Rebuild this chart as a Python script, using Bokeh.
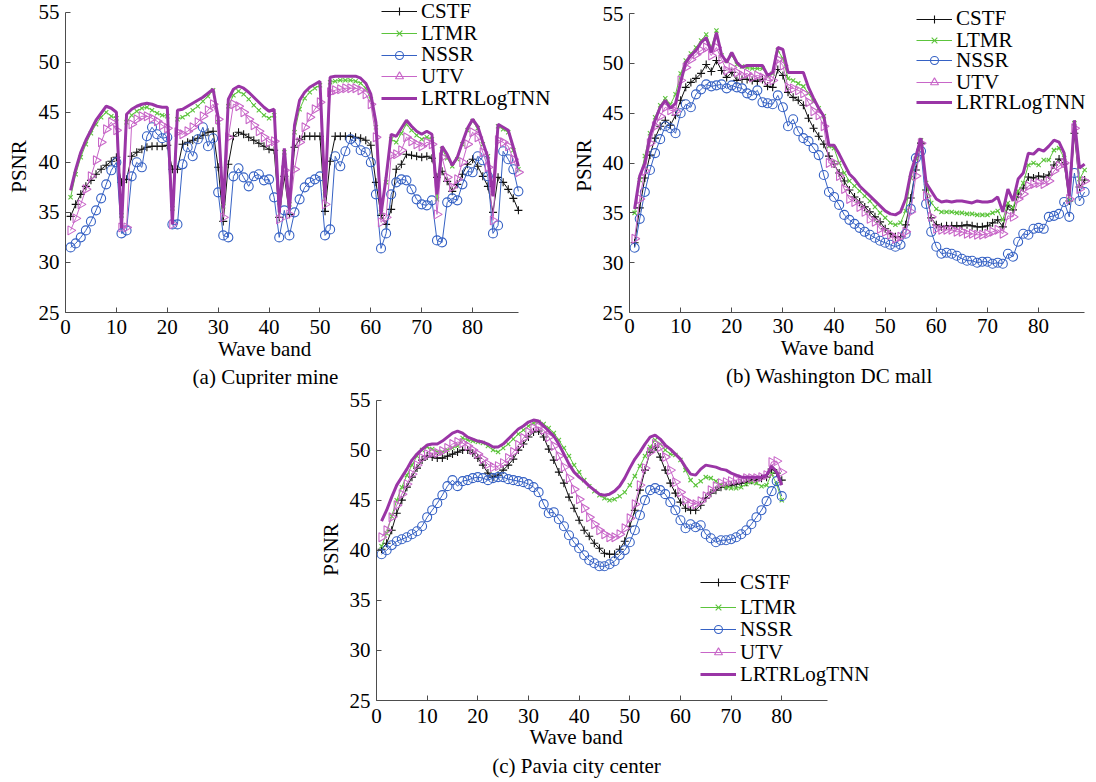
import math
from bokeh.plotting import figure
from bokeh.models import Range1d, FixedTicker, Legend, LegendItem, Title, Spacer
from bokeh.layouts import row, column
from bokeh.embed import file_html
from bokeh.resources import INLINE

# ---------------- data ----------------
bands_ab = list(range(1, 90))
bands_c = list(range(1, 81))
x_ticks = [0, 10, 20, 30, 40, 50, 60, 70, 80]
y_ticks = [25, 30, 35, 40, 45, 50, 55]
methods = ["CSTF", "LTMR", "NSSR", "UTV", "LRTRLogTNN"]
captions = ["(a) Cupriter mine", "(b) Washington DC mall", "(c) Pavia city center"]

# (a) Cupriter mine
cstf_a = [34.6, 35.8, 36.8, 37.6, 38.2, 38.8, 39.3, 39.7, 40.1, 40.5, 38.0, 38.3, 40.6, 41.0, 41.3, 41.5, 41.6, 41.6, 41.6, 41.7,
          39.3, 39.3, 41.8, 42.0, 42.2, 42.4, 42.7, 43.0, 43.1, 39.5, 34.1, 39.8, 42.6, 43.0, 42.8, 42.5, 42.2, 41.9, 41.6, 41.3,
          41.2, 34.5, 38.6, 34.8, 41.5, 42.3, 42.6, 42.6, 42.6, 42.6, 35.1, 40.1, 42.6, 42.6, 42.6, 42.6, 42.5, 42.4, 42.2, 41.7,
          38.0, 34.7, 33.8, 35.3, 39.3, 39.8, 40.8, 40.7, 40.6, 40.5, 40.6, 40.4, 38.5, 39.1, 38.1, 37.1, 37.8, 38.8, 39.8, 40.3,
          39.6, 38.6, 37.6, 35.0, 38.5, 38.0, 37.3, 36.4, 35.2]
ltmr_a = [36.5, 38.8, 40.5, 41.8, 42.9, 43.8, 44.5, 45.0, 44.6, 44.4, 34.7, 44.0, 44.7, 45.1, 45.4, 45.5, 45.2, 44.9, 44.7, 44.6,
          35.4, 44.3, 44.5, 44.8, 45.2, 45.6, 46.1, 46.6, 47.2, 44.0, 35.6, 45.6, 46.7, 47.1, 46.8, 46.3, 45.7, 45.2, 44.7, 44.4,
          44.7, 36.0, 41.0, 35.8, 43.0, 45.3, 46.4, 47.0, 47.4, 47.7, 37.0, 48.0, 48.1, 48.2, 48.2, 48.2, 48.1, 47.9, 47.4, 46.3,
          43.5, 35.0, 38.0, 42.3, 42.0, 42.9, 43.8, 43.2, 42.7, 42.3, 42.5, 42.3, 36.3, 41.3, 40.4, 39.6, 40.3, 41.8, 43.2, 44.1,
          43.4, 41.8, 40.6, 36.9, 43.6, 43.3, 43.0, 41.2, 39.3]
nssr_a = [31.5, 31.9, 32.5, 33.2, 34.1, 35.2, 36.4, 37.8, 39.2, 40.0, 32.9, 33.2, 38.6, 40.0, 39.5, 42.6, 43.5, 42.8, 42.4, 42.5,
          33.8, 33.8, 39.8, 41.5, 40.6, 42.3, 43.5, 41.6, 42.4, 37.0, 32.7, 32.5, 38.6, 39.4, 38.5, 37.6, 38.6, 38.8, 38.2, 38.3,
          36.5, 32.5, 35.2, 32.7, 35.0, 36.3, 37.5, 38.0, 38.3, 38.6, 32.7, 33.3, 40.6, 39.6, 41.1, 42.3, 42.0, 41.2, 41.0, 40.0,
          36.8, 31.4, 32.9, 36.8, 38.0, 38.3, 38.2, 37.3, 36.3, 35.8, 35.7, 36.2, 32.2, 32.0, 36.0, 36.4, 36.2, 37.8, 39.1, 39.0,
          40.6, 40.2, 38.6, 32.9, 33.7, 41.1, 40.3, 39.3, 37.1]
utv_a = [33.2, 34.4, 35.8, 37.3, 38.6, 40.2, 42.0, 43.3, 44.0, 43.2, 33.5, 33.5, 43.8, 44.3, 44.6, 44.6, 44.4, 44.1, 43.7, 43.4,
         33.8, 43.0, 42.8, 43.1, 43.5, 44.0, 44.6, 45.2, 45.8, 44.3, 34.5, 42.5, 45.8, 45.6, 45.0, 44.3, 43.7, 43.1, 42.5, 42.0,
         42.1, 34.3, 39.2, 34.8, 39.3, 42.0, 43.5, 44.5, 45.3, 46.0, 35.8, 47.0, 47.2, 47.3, 47.4, 47.4, 47.4, 47.2, 46.8, 45.8,
         42.5, 34.0, 34.5, 40.7, 40.8, 41.2, 42.5, 42.1, 41.8, 41.6, 42.0, 41.8, 34.8, 40.5, 38.5, 37.5, 38.3, 40.0, 41.8, 43.0,
         42.5, 41.0, 39.5, 34.2, 42.2, 42.0, 41.6, 40.3, 39.0]
lrtr_a = [37.2, 39.3, 41.0, 42.2, 43.2, 44.2, 44.9, 45.6, 45.4, 45.0, 33.4, 44.8, 45.3, 45.6, 45.8, 45.9, 45.8, 45.6, 45.5, 45.5,
          33.8, 45.2, 45.3, 45.6, 45.9, 46.2, 46.5, 46.9, 47.3, 44.5, 35.4, 46.3, 47.3, 47.6, 47.4, 47.0, 46.5, 46.0, 45.5, 45.1,
          45.3, 35.0, 41.4, 35.3, 43.7, 46.2, 47.0, 47.5, 47.8, 48.1, 36.5, 48.5, 48.6, 48.6, 48.6, 48.6, 48.6, 48.4, 47.9, 46.8,
          44.0, 34.8, 38.5, 42.8, 42.6, 43.4, 44.2, 43.6, 43.1, 42.8, 43.1, 42.8, 36.8, 41.6, 40.8, 39.7, 40.5, 42.0, 43.4, 44.3,
          43.6, 42.0, 40.5, 36.6, 43.8, 43.5, 43.2, 41.5, 39.6]

# (b) Washington DC mall
cstf_b = [32.0, 35.5, 38.5, 40.8, 42.5, 43.7, 44.3, 43.8, 44.8, 46.3, 47.6, 48.1, 48.5, 49.0, 49.9, 49.2, 50.3, 49.3, 48.6, 49.1,
          48.3, 48.4, 48.4, 48.3, 48.2, 48.4, 47.7, 47.6, 49.4, 48.8, 47.1, 46.6, 46.3, 45.8, 44.5, 43.5, 42.7, 41.9, 40.7, 39.9,
          39.0, 38.2, 37.3, 36.6, 36.1, 35.6, 35.1, 34.6, 34.1, 33.4, 32.9, 32.6, 32.6, 33.8, 36.5, 39.3, 42.0, 37.3, 34.5, 33.8,
          33.6, 33.7, 33.7, 33.7, 33.7, 33.8, 33.7, 33.6, 33.6, 33.7, 34.0, 34.3, 33.6, 35.7, 35.3, 36.9, 37.5, 38.6, 38.5, 38.7,
          38.6, 38.8, 39.8, 40.4, 39.9, 36.2, 43.0, 37.6, 38.3]
ltmr_b = [35.0, 38.3, 40.7, 43.0, 44.6, 45.8, 46.5, 45.9, 46.9, 49.0, 50.3, 51.0, 51.6, 52.3, 52.9, 51.6, 53.3, 50.8, 50.3, 50.8,
          49.9, 49.7, 49.6, 49.5, 49.5, 49.5, 48.8, 49.0, 51.3, 50.5, 48.5, 48.3, 48.0, 47.7, 47.0, 46.2, 45.5, 44.7, 41.7, 41.5,
          40.0, 39.0, 38.2, 37.7, 37.2, 36.7, 36.2, 35.6, 35.0, 34.5, 34.0, 33.8, 34.0, 35.2, 38.5, 40.4, 42.3, 38.0, 36.0, 35.4,
          35.1, 35.1, 35.1, 35.0, 35.0, 34.9, 34.9, 34.8, 34.8, 34.8, 35.0, 35.2, 34.3, 36.0, 35.5, 37.2, 38.0, 39.8, 40.0, 39.8,
          40.3, 40.3, 41.3, 41.5, 40.5, 36.3, 44.0, 38.4, 39.3]
nssr_b = [31.5, 34.4, 37.1, 39.3, 41.0, 42.4, 43.7, 43.5, 43.0, 45.0, 45.9, 45.6, 46.9, 47.4, 47.9, 47.7, 47.8, 47.9, 47.5, 47.8,
          47.6, 47.5, 47.0, 46.8, 47.3, 46.1, 46.0, 45.9, 46.8, 45.6, 43.7, 44.4, 43.2, 42.5, 42.2, 41.5, 40.8, 38.8, 37.1, 36.6,
          35.8, 34.8, 34.3, 33.9, 33.5, 33.1, 32.8, 32.5, 32.2, 32.0, 31.8, 31.6, 31.8, 32.9, 35.4, 40.5, 41.2, 35.9, 33.1, 31.6,
          30.9, 31.0, 30.9, 30.7, 30.4, 30.2, 30.2, 30.0, 30.1, 30.1, 29.9, 30.0, 29.9, 30.9, 30.6, 32.1, 32.9, 32.8, 33.4, 33.5,
          33.4, 34.6, 34.7, 34.9, 36.1, 34.6, 39.0, 36.2, 37.1]
utv_b = [32.4, 36.4, 39.2, 42.0, 43.7, 44.7, 45.6, 45.3, 45.2, 48.3, 49.6, 50.4, 50.9, 51.3, 51.6, 50.8, 51.6, 50.4, 49.3, 49.6,
         49.1, 48.8, 49.0, 48.6, 48.8, 48.6, 48.3, 48.3, 50.4, 49.8, 47.6, 47.5, 47.3, 47.0, 46.1, 45.2, 44.8, 43.7, 40.0, 40.0,
         38.7, 37.4, 36.4, 36.1, 35.6, 35.1, 34.4, 34.1, 33.4, 33.1, 32.8, 32.4, 32.6, 33.1, 35.1, 38.7, 42.0, 36.7, 34.6, 33.4,
         33.3, 33.3, 33.3, 33.1, 33.1, 32.9, 32.9, 32.8, 32.8, 32.9, 33.1, 33.3, 32.9, 34.7, 34.6, 36.4, 36.9, 37.7, 37.9, 38.0,
         37.9, 38.2, 39.2, 39.7, 40.0, 36.4, 43.5, 37.4, 38.2]
lrtr_b = [35.4, 38.7, 40.0, 42.7, 44.3, 45.6, 46.3, 45.5, 46.0, 48.1, 50.1, 50.8, 51.3, 52.1, 52.6, 51.1, 53.1, 50.9, 50.1, 51.1,
          50.1, 49.6, 49.8, 49.8, 49.8, 49.8, 48.8, 49.1, 51.6, 51.4, 49.1, 49.1, 49.1, 49.1, 47.6, 46.5, 45.5, 44.7, 41.8, 41.8,
          40.9, 39.9, 38.9, 38.4, 37.7, 37.2, 36.7, 36.2, 35.7, 35.2, 34.9, 34.8, 35.1, 36.4, 39.0, 40.7, 42.5, 38.0, 37.2, 36.4,
          36.1, 36.2, 36.1, 36.2, 36.2, 36.1, 36.0, 36.2, 36.1, 36.1, 36.2, 36.6, 35.1, 37.4, 36.2, 38.4, 39.0, 41.0, 40.9, 41.4,
          41.2, 41.7, 42.3, 42.1, 41.0, 36.7, 44.3, 39.5, 39.9]

# (c) Pavia city center
cstf_c = [40.1, 40.7, 42.0, 43.7, 45.0, 46.3, 47.3, 48.2, 49.0, 49.4, 49.3, 49.2, 49.2, 49.4, 49.6, 49.8, 50.0, 50.0, 49.7, 49.2,
          48.5, 47.7, 47.3, 47.5, 48.0, 48.5, 49.1, 50.0, 50.6, 51.3, 51.8, 51.9, 51.3, 50.1, 49.0, 47.8, 46.7, 45.3, 44.2, 43.0,
          42.0, 41.4, 40.7, 40.2, 39.7, 39.6, 39.6, 40.1, 40.9, 42.4, 44.0, 46.0, 48.0, 49.8, 50.3, 49.3, 48.0, 46.7, 45.7, 44.8,
          44.2, 44.0, 44.0, 44.5, 45.2, 45.7, 46.0, 46.3, 46.4, 46.5, 46.6, 46.7, 46.8, 47.0, 47.0, 47.2, 47.3, 48.1, 47.7, 47.0]
ltmr_c = [40.4, 41.7, 43.4, 45.0, 46.3, 47.5, 48.5, 49.4, 50.0, 50.3, 50.1, 49.8, 49.8, 50.0, 50.2, 50.4, 51.2, 51.0, 50.9, 50.8,
          50.7, 50.4, 50.0, 49.8, 50.2, 50.6, 51.1, 51.6, 52.0, 52.4, 52.7, 52.8, 52.6, 52.2, 51.7, 51.0, 50.2, 49.4, 48.5, 47.8,
          47.0, 46.4, 45.9, 45.5, 45.2, 45.0, 45.1, 45.4, 45.8, 46.5, 47.4, 48.4, 49.4, 50.3, 51.0, 50.6, 50.0, 49.6, 49.5, 49.0,
          48.0, 47.0, 46.5, 46.9, 47.3, 47.2, 46.9, 46.5, 46.3, 46.2, 46.2, 46.3, 46.6, 46.8, 46.7, 46.4, 46.5, 47.6, 46.6, 45.0]
nssr_c = [39.6, 40.0, 40.5, 40.9, 41.1, 41.3, 41.6, 41.9, 42.4, 43.3, 44.0, 44.7, 45.5, 46.4, 47.0, 46.4, 46.9, 47.0, 47.2, 47.3,
          47.2, 47.0, 47.2, 47.3, 47.3, 47.1, 47.0, 46.9, 46.8, 46.6, 46.3, 45.8, 44.6, 43.7, 43.8, 43.1, 42.4, 41.5, 40.8, 40.2,
          39.5, 39.0, 38.7, 38.4, 38.4, 38.6, 38.9, 39.5, 40.0, 40.8, 42.0, 43.5, 45.0, 46.0, 46.2, 46.0, 45.6, 44.8, 44.0, 43.0,
          42.2, 42.6, 42.3, 42.5, 41.6, 41.2, 40.8, 41.0, 41.0, 41.1, 41.3, 41.6, 42.0, 42.6, 43.3, 44.0, 44.9, 45.9, 46.9, 45.4]
utv_c = [41.3, 42.0, 43.3, 44.5, 45.6, 46.6, 47.6, 48.5, 49.2, 49.6, 49.7, 49.7, 49.9, 50.2, 50.6, 50.8, 50.7, 50.4, 50.0, 49.6,
         49.1, 48.6, 48.3, 48.4, 48.7, 49.2, 49.8, 50.5, 51.2, 51.8, 52.2, 52.3, 52.0, 51.3, 50.4, 49.4, 48.3, 47.2, 46.1, 45.1,
         44.2, 43.3, 42.6, 42.0, 41.6, 41.3, 41.3, 41.6, 42.2, 43.2, 44.6, 46.5, 48.2, 49.8, 50.6, 50.3, 49.3, 48.0, 46.8, 45.8,
         45.0, 44.7, 44.6, 44.9, 45.4, 46.0, 46.4, 46.7, 46.8, 46.9, 47.0, 47.1, 47.2, 47.2, 47.2, 47.3, 47.5, 48.8, 48.9, 47.8]
lrtr_c = [42.9, 44.0, 45.3, 46.5, 47.3, 48.1, 49.0, 49.6, 50.1, 50.5, 50.6, 50.6, 50.9, 51.3, 51.7, 51.9, 51.7, 51.3, 51.1, 50.9,
          50.8, 50.6, 50.3, 50.3, 50.6, 51.1, 51.6, 52.1, 52.4, 52.8, 53.0, 52.9, 52.4, 51.9, 51.4, 50.6, 49.6, 48.6, 47.8, 47.3,
          46.9, 46.4, 46.0, 45.6, 45.5, 45.6, 45.9, 46.4, 47.2, 48.2, 49.1, 49.8, 50.6, 51.3, 51.5, 51.1, 50.5, 50.1, 49.6, 49.1,
          48.3, 47.6, 47.5, 48.1, 48.5, 48.4, 48.3, 48.1, 48.0, 47.7, 47.5, 47.3, 47.3, 47.3, 47.3, 47.3, 47.5, 48.4, 47.8, 46.5]

# ---------------- styling ----------------
FONT = "Liberation Serif"
FS = "21px"
AXIS_COLOR = "#4d4d4d"
STYLE = {
    "CSTF": dict(color="#111111", marker="cross", size=8, lw=1, angle=0.0),
    "LTMR": dict(color="#5cc43c", marker="x", size=6, lw=1, angle=0.0),
    "NSSR": dict(color="#3561c4", marker="circle", size=9, lw=1, angle=0.0),
    "UTV": dict(color="#c866c8", marker="triangle", size=9, lw=1, angle=-math.pi / 2),
    "LRTRLogTNN": dict(color="#9a35a6", marker=None, size=0, lw=3, angle=0.0),
}
ROW_H = 26
GLYPH_H = 20


def title(text, side_offset, standoff, valign):
    return Title(text=text, align="left", offset=side_offset, standoff=standoff,
                 vertical_align=valign, text_font=FONT, text_font_size=FS,
                 text_font_style="normal", text_color="black")


def make_panel(width, height, borders, xr, yr, xs, series, leg_x, leg_rows_y,
               tick_standoff, psnr, wb, cap):
    p = figure(width=width, height=height, x_range=Range1d(*xr), y_range=Range1d(*yr),
               output_backend="svg", toolbar_location=None, tools="")
    p.min_border_left, p.min_border_right, p.min_border_top, p.min_border_bottom = borders
    p.grid.visible = False
    p.outline_line_color = None
    for ax in (p.xaxis[0], p.yaxis[0]):
        ax.axis_line_color = AXIS_COLOR
        ax.major_tick_line_color = AXIS_COLOR
        ax.major_tick_in = 5
        ax.major_tick_out = 0
        ax.minor_tick_line_color = None
        ax.major_label_text_font = FONT
        ax.major_label_text_font_size = FS
        ax.major_label_text_color = "black"
    p.xaxis.bounds = (0, 89)
    p.yaxis.bounds = (25, 55)
    p.xaxis.ticker = FixedTicker(ticks=x_ticks)
    p.yaxis.ticker = FixedTicker(ticks=y_ticks)
    p.xaxis.major_label_standoff = tick_standoff
    p.yaxis.major_label_standoff = 6

    for name, ys, ly in zip(methods, series, leg_rows_y):
        st = STYLE[name]
        rs = [p.line(xs, ys, line_color=st["color"], line_width=st["lw"])]
        if st["marker"]:
            rs.append(p.scatter(xs, ys, marker=st["marker"], size=st["size"], angle=st["angle"],
                                line_color=st["color"], fill_color=None, line_width=1.1))
        leg = Legend(items=[LegendItem(label=name, renderers=rs)], location=(leg_x, ly),
                     orientation="vertical", label_text_font=FONT, label_text_font_size=FS,
                     label_text_color="black", glyph_width=36, glyph_height=GLYPH_H,
                     label_height=ROW_H, spacing=0, padding=0, margin=0, label_standoff=4,
                     border_line_color=None, background_fill_alpha=0)
        p.add_layout(leg)

    # y-axis title ("PSNR"), then x-axis title and caption below
    p.add_layout(title("PSNR", psnr[0], psnr[1], "bottom"), "left")
    p.add_layout(title("Wave band", wb[0], wb[1], "top"), "below")
    p.add_layout(title(cap[2], cap[0], cap[1], "bottom"), "below")
    return p


# panel (a): frame page x 61..560, y 0..314 (55 at y=11.7)
pa = make_panel(560, 388, (61, 0, 0, 74), (0, 97.27), (25, 56.16), bands_ab,
                [cstf_a, ltmr_a, nssr_a, utv_a, lrtr_a],
                316, [287.7, 266.0, 244.3, 222.7, 201.0],
                7, (119.7, 9), (152.5, 1), (127.1, -1, captions[0]))
# panel (b): frame page x 629..1094, y 0..315 (55 at y=13.3)
pb = make_panel(534, 388, (69, 0, 0, 73), (0, 90.93), (25, 56.32), bands_ab,
                [cstf_b, ltmr_b, nssr_b, utv_b, lrtr_b],
                287, [280.3, 258.7, 238.7, 217.0, 197.0],
                6, (120.7, 8), (151.2, 0), (96.6, 0, captions[1]))
# panel (c): frame page x 370..880, y 399..701
pc = make_panel(567, 392, (57, 0, 11, 79), (0, 99.49), (25, 55.05), bands_c,
                [cstf_c, ltmr_c, nssr_c, utv_c, lrtr_c],
                324, [104.7, 79.7, 58.0, 34.7, 13.0],
                8, (124.7, 7), (152.9, -2), (115.8, 5, captions[2]))

layout = column(row(pa, pb), row(Spacer(width=313, height=392), pc))
open("out.html", "w").write(file_html(layout, INLINE))
